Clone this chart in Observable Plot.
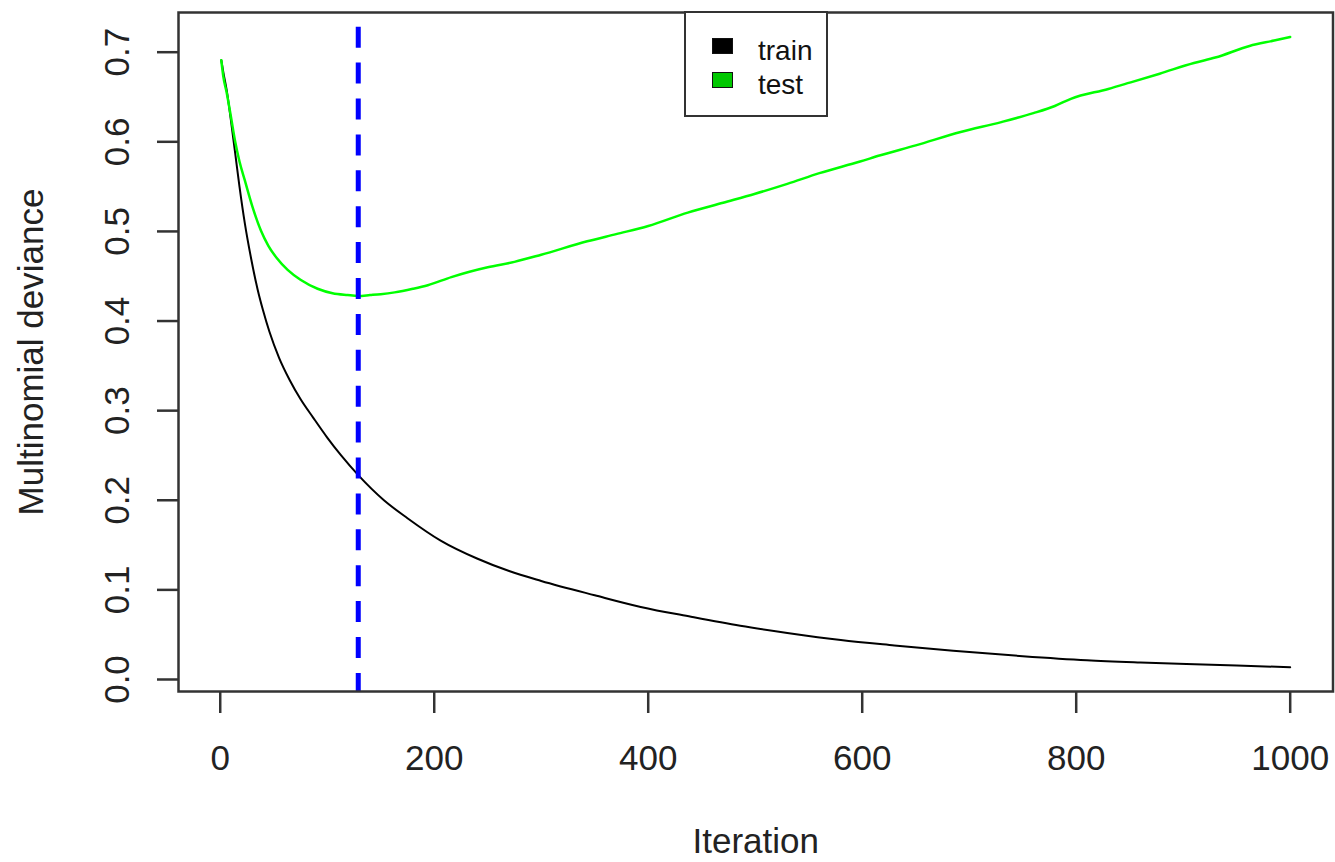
<!DOCTYPE html>
<html>
<head>
<meta charset="utf-8">
<script src="https://cdn.jsdelivr.net/npm/d3@7"></script>
<script src="https://cdn.jsdelivr.net/npm/@observablehq/plot@0.6"></script>
<style>
  html, body { margin: 0; padding: 0; background: #fff; }
  #wrap { position: relative; width: 1335px; height: 862px; font-family: "Liberation Sans", Arial, sans-serif; }
  #legend { position: absolute; left: 684px; top: 11px; width: 140px; height: 102px; border: 2.5px solid #333; background: #fff; box-sizing: content-box; }
  .sw { position: absolute; left: 26px; width: 19px; height: 14px; border: 1.5px solid #111; }
  .lt { position: absolute; left: 72px; font-size: 28px; color: #111; line-height: 1; }
</style>
</head>
<body>
<div id="wrap"></div>
<script>
// Iteration / deviance values
const trainIter = [1,3,6,10,14,18,23,29,35,40,46,55,65,75,87,100,113,129,153,175,206,240,270,300,350,393,440,486,530,580,630,685,750,810,860,903,950,1000];
const trainDev  = [0.691,0.677,0.658,0.624,0.587,0.550,0.509,0.469,0.435,0.412,0.388,0.359,0.334,0.313,0.292,0.270,0.250,0.228,0.200,0.180,0.155,0.135,0.121,0.110,0.094,0.081,0.070,0.060,0.052,0.044,0.038,0.032,0.026,0.0215,0.019,0.0172,0.0155,0.0137];

const testIter = [1,3,6,10,14,18,23,30,38,45,53,63,75,91,105,119,129,140,150,163,180,194,216,233,250,275,300,343,370,400,437,470,500,530,560,598,617,650,692,730,760,780,795,830,850,878,910,930,962,985,1000];
const testDev  = [0.691,0.672,0.655,0.628,0.600,0.578,0.557,0.528,0.501,0.484,0.470,0.457,0.446,0.436,0.431,0.429,0.428,0.429,0.430,0.432,0.436,0.440,0.449,0.455,0.460,0.466,0.474,0.489,0.497,0.506,0.521,0.532,0.542,0.553,0.565,0.578,0.585,0.596,0.611,0.622,0.632,0.640,0.648,0.659,0.666,0.676,0.688,0.694,0.707,0.713,0.717];

const bestIter = 129;

const xTicks = [0, 200, 400, 600, 800, 1000];
const yTicks = [0, 0.1, 0.2, 0.3, 0.4, 0.5, 0.6, 0.7];
const yTickLabels = ["0.0","0.1","0.2","0.3","0.4","0.5","0.6","0.7"];
const legendLabels = ["train", "test"];
const seriesColors = ["#000000", "#00ff00"];
const legendFills = ["#000000", "#00c800"];

const train = trainIter.map((x, i) => ({x, y: trainDev[i]}));
const test = testIter.map((x, i) => ({x, y: testDev[i]}));

const chart = Plot.plot({
  width: 1335,
  height: 862,
  marginLeft: 178,
  marginRight: 2.5,
  marginTop: 12,
  marginBottom: 171,
  style: {fontFamily: "'Liberation Sans', Arial, sans-serif", fontSize: "35px", color: "#222", background: "#fff"},
  x: {domain: [-39, 1040]},
  y: {domain: [-0.0134, 0.7443]},
  marks: [
    Plot.axisX({ticks: xTicks, tickSize: 22, tickPadding: 32, stroke: "#333", strokeWidth: 2.5, label: null, tickFormat: d => String(d)}),
    Plot.axisY({ticks: yTicks, tickSize: 21, stroke: "#333", strokeWidth: 2.5, label: null, text: null}),
    Plot.axisY({ticks: yTicks, tickSize: 0, tickPadding: 50, label: null,
      tickFormat: d => yTickLabels[yTicks.indexOf(d)], rotate: -90, textAnchor: "middle", lineAnchor: "bottom"}),
    Plot.line(train, {x: "x", y: "y", stroke: seriesColors[0], strokeWidth: 2, curve: "monotone-x"}),
    Plot.line(test, {x: "x", y: "y", stroke: seriesColors[1], strokeWidth: 2.5, curve: "monotone-x"}),
    Plot.ruleX([bestIter], {stroke: "#0000ff", strokeWidth: 5, strokeDasharray: "21 14.9", strokeDashoffset: 21.2}),
    Plot.frame({stroke: "#333", strokeWidth: 2.5}),
    Plot.text(["Iteration"], {frameAnchor: "bottom", dy: 161, lineAnchor: "bottom", fill: "#222"}),
    Plot.text(["Multinomial deviance"], {frameAnchor: "left", dx: -136, rotate: -90, lineAnchor: "bottom", textAnchor: "middle", fill: "#222"})
  ]
});

const wrap = document.getElementById("wrap");
wrap.appendChild(chart);
chart.style.position = "absolute";
chart.style.left = "0px";
chart.style.top = "0px";

const legend = document.createElement("div");
legend.id = "legend";
const swTops = [25, 59];
const txtTops = [24, 58];
legendLabels.forEach((lab, i) => {
  const sw = document.createElement("div");
  sw.className = "sw";
  sw.style.top = swTops[i] + "px";
  sw.style.background = legendFills[i];
  legend.appendChild(sw);
  const t = document.createElement("div");
  t.className = "lt";
  t.style.top = txtTops[i] + "px";
  t.textContent = lab;
  legend.appendChild(t);
});
wrap.appendChild(legend);
</script>
</body>
</html>
